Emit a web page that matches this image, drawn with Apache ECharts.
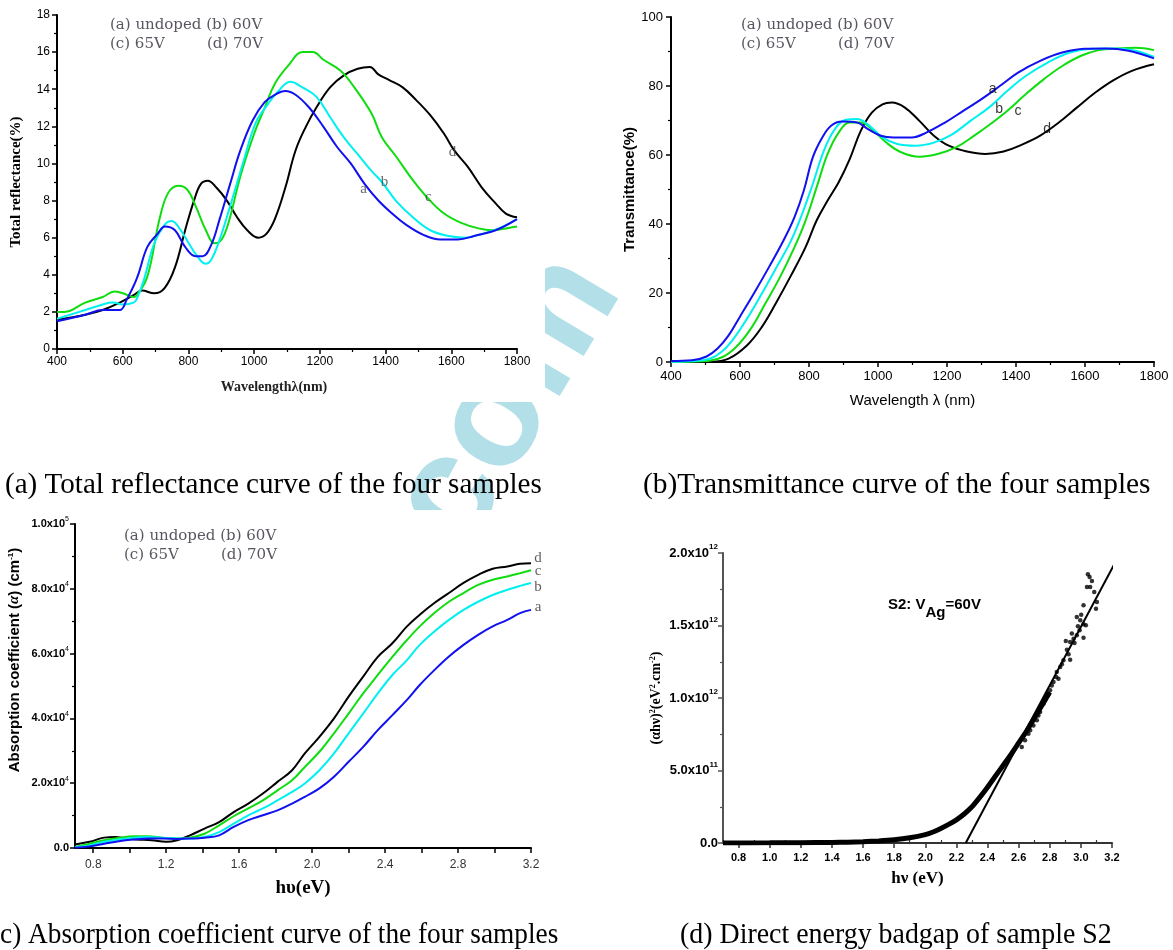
<!DOCTYPE html>
<html>
<head>
<meta charset="utf-8">
<script src="https://cdn.jsdelivr.net/npm/echarts@6/dist/echarts.min.js"></script>
<style>
  html, body { margin: 0; padding: 0; background: #fff; }
  #chart { width: 1173px; height: 950px; }
</style>
</head>
<body>
<div id="chart"></div>
<script>
// (a) total reflectance, [wavelength nm, %]
const reflA = [[400,1.5],[486,1.85],[539,2.1],[591,2.1],[612,2.65],[643,3.8],[675,5.5],[706,6.2],[728,6.6],[759,6.4],[790,5.5],[822,5.0],[843,5.0],[869,5.6],[895,7.0],[927,8.9],[958,10.7],[995,12.3],[1032,13.3],[1063,13.7],[1095,13.9],[1126,13.7],[1168,13.0],[1210,12.0],[1252,10.9],[1294,10.0],[1336,8.9],[1378,8.0],[1420,7.3],[1462,6.7],[1515,6.15],[1567,5.9],[1620,5.9],[1672,6.1],[1735,6.4],[1800,7.0]]
const reflB = [[400,1.63],[486,2.1],[539,2.4],[570,2.5],[601,2.4],[633,2.5],[643,2.7],[664,3.7],[696,5.7],[728,6.7],[749,6.9],[769,6.6],[801,5.7],[827,5.0],[851,4.6],[869,4.8],[895,5.9],[927,7.7],[969,10.2],[1005,12.2],[1042,13.2],[1074,13.9],[1110,14.4],[1147,14.1],[1189,13.6],[1231,12.5],[1273,11.4],[1315,10.5],[1357,9.6],[1389,9.0],[1431,8.0],[1483,7.1],[1536,6.4],[1588,6.1],[1641,6.0],[1693,6.2],[1745,6.5],[1800,7.0]]
const reflC = [[400,2.0],[423,2.0],[486,2.5],[539,2.8],[575,3.1],[601,3.0],[633,2.8],[643,2.9],[675,3.9],[712,7.0],[738,8.4],[769,8.8],[796,8.6],[822,7.7],[853,6.4],[880,5.7],[901,5.9],[922,6.8],[958,9.3],[1000,11.6],[1032,13.0],[1063,14.3],[1105,15.3],[1147,16.0],[1179,16.0],[1210,15.6],[1263,15.0],[1305,14.1],[1357,12.7],[1389,11.4],[1431,10.4],[1483,9.1],[1530,8.1],[1578,7.3],[1630,6.8],[1683,6.5],[1724,6.4],[1766,6.5],[1800,6.6]]
const reflD = [[400,1.58],[486,1.85],[539,2.1],[591,2.5],[633,2.9],[659,3.15],[696,3.0],[728,3.3],[759,4.4],[790,6.4],[817,8.0],[838,8.9],[859,9.07],[885,8.7],[917,8.0],[948,7.1],[979,6.4],[1013,6.0],[1037,6.2],[1063,7.0],[1095,8.7],[1126,10.7],[1158,12.0],[1189,13.0],[1231,14.1],[1273,14.75],[1315,15.1],[1352,15.2],[1378,14.8],[1410,14.5],[1452,14.1],[1494,13.4],[1536,12.6],[1578,11.6],[1609,10.7],[1651,9.8],[1693,8.7],[1735,7.85],[1766,7.3],[1800,7.1]]
const reflTags = [[1333,8.6,'a'],[1397,9.0,'b'],[1530,8.2,'c'],[1604,10.6,'d']]

// (b) transmittance, [wavelength nm, %]
const tranA = [[400,0.3],[461,0.5],[503,1.6],[535,3.9],[567,7.7],[599,13],[641,20],[684,27.5],[726,35.2],[758,42],[785,49.7],[811,59.3],[838,65],[864,68.5],[896,69.7],[939,69.4],[971,67.5],[1008,65.6],[1045,65.1],[1098,65.1],[1140,66.5],[1194,69.4],[1247,72.8],[1300,76.2],[1353,80],[1406,83.9],[1470,87.3],[1534,89.7],[1598,90.8],[1662,90.9],[1726,90.2],[1800,88]]
const tranB = [[400,0.1],[471,0.3],[514,1.0],[546,2.9],[578,6.3],[620,12.5],[663,19.8],[706,27.5],[748,35.2],[780,42.9],[811,51.6],[843,61.2],[875,67.5],[907,70.2],[939,70.4],[971,68.8],[1013,65.1],[1056,63.2],[1109,62.7],[1162,63.6],[1215,66],[1268,69.9],[1322,73.8],[1375,78.6],[1428,82.9],[1492,86.8],[1556,89.7],[1619,90.8],[1683,90.9],[1747,90.2],[1800,88.4]]
const tranC = [[400,0],[492,0.2],[546,1.3],[588,4.3],[631,9.6],[673,16.9],[716,24.6],[758,33.3],[790,41],[822,50.6],[854,60.3],[886,66.5],[918,69.4],[950,69.4],[982,67.5],[1024,63.6],[1067,60.8],[1120,59.5],[1173,60.3],[1226,62.2],[1279,65.6],[1332,69.4],[1375,72.8],[1428,77.6],[1481,82],[1534,85.8],[1587,88.7],[1640,90.4],[1694,90.9],[1747,91.1],[1800,90.4]]
const tranD = [[400,0],[514,0.1],[567,1.0],[620,4.8],[663,10.1],[706,17.4],[748,25.1],[790,33.3],[822,41],[854,46.8],[886,52.1],[918,58.8],[950,67],[982,72.3],[1013,74.7],[1040,75.2],[1077,73.8],[1120,69.9],[1162,65.6],[1205,62.7],[1258,61],[1311,60.3],[1364,61],[1417,63],[1470,65.6],[1524,69.4],[1577,73.8],[1630,78.1],[1683,81.7],[1736,84.4],[1800,86.3]]
const tranTags = [[1332,79.2,'a'],[1351,73.3,'b'],[1406,72.8,'c'],[1490,67.5,'d']]

// (c) absorption coefficient, [hv eV, alpha in 1e4 cm-1]
const absA = [[0.7,0.01],[0.78,0.05],[0.86,0.13],[0.94,0.21],[1.02,0.26],[1.1,0.29],[1.18,0.29],[1.26,0.28],[1.33,0.29],[1.41,0.32],[1.49,0.39],[1.57,0.65],[1.65,0.86],[1.73,1.01],[1.81,1.16],[1.89,1.37],[1.96,1.58],[2.04,1.84],[2.12,2.2],[2.2,2.66],[2.28,3.12],[2.36,3.64],[2.44,4.1],[2.52,4.57],[2.59,5.03],[2.67,5.49],[2.75,5.91],[2.83,6.27],[2.91,6.58],[2.99,6.84],[3.07,7.04],[3.14,7.25],[3.2,7.35]]
const absB = [[0.7,0.03],[0.78,0.08],[0.86,0.19],[0.94,0.26],[1.02,0.32],[1.1,0.34],[1.18,0.32],[1.26,0.29],[1.33,0.29],[1.41,0.34],[1.49,0.49],[1.57,0.75],[1.65,1.01],[1.73,1.22],[1.81,1.47],[1.89,1.73],[1.96,1.99],[2.04,2.4],[2.12,2.92],[2.2,3.54],[2.28,4.15],[2.36,4.77],[2.44,5.34],[2.52,5.8],[2.59,6.27],[2.67,6.68],[2.75,7.04],[2.83,7.35],[2.91,7.6],[2.99,7.81],[3.07,7.97],[3.14,8.09],[3.2,8.18]]
const absC = [[0.7,0.03],[0.78,0.13],[0.86,0.24],[0.94,0.31],[1.02,0.36],[1.1,0.36],[1.18,0.32],[1.26,0.29],[1.33,0.32],[1.41,0.44],[1.49,0.7],[1.57,0.98],[1.65,1.22],[1.73,1.47],[1.81,1.78],[1.89,2.09],[1.96,2.5],[2.04,2.97],[2.12,3.54],[2.2,4.15],[2.28,4.77],[2.36,5.34],[2.44,5.9],[2.52,6.42],[2.59,6.84],[2.67,7.25],[2.75,7.6],[2.83,7.87],[2.91,8.12],[2.99,8.28],[3.07,8.38],[3.14,8.48],[3.2,8.57]]
const absD = [[0.7,0.11],[0.78,0.19],[0.86,0.32],[0.92,0.34],[0.98,0.29],[1.04,0.26],[1.12,0.24],[1.2,0.19],[1.26,0.24],[1.33,0.39],[1.41,0.6],[1.49,0.8],[1.57,1.11],[1.65,1.37],[1.73,1.68],[1.81,2.04],[1.89,2.4],[1.96,2.92],[2.04,3.43],[2.12,4.0],[2.2,4.67],[2.28,5.29],[2.36,5.9],[2.44,6.32],[2.52,6.84],[2.59,7.2],[2.67,7.56],[2.75,7.87],[2.83,8.18],[2.91,8.43],[2.99,8.62],[3.07,8.69],[3.14,8.77],[3.2,8.79]]
const absTags = [[3.2,8.95,'d'],[3.2,8.55,'c'],[3.2,8.05,'b'],[3.2,7.45,'a']]

// (d) (alpha h nu)^2 in 1e12 units vs hv (eV)
const tauc = [[0.7,0],[1.0,0.001],[1.2,0.002],[1.4,0.004],[1.5,0.006],[1.6,0.009],[1.7,0.014],[1.8,0.022],[1.9,0.036],[2.0,0.058],[2.05,0.076],[2.1,0.1],[2.15,0.128],[2.2,0.16],[2.25,0.2],[2.3,0.25],[2.35,0.315],[2.4,0.385],[2.45,0.46],[2.5,0.535],[2.55,0.61],[2.6,0.69],[2.65,0.77],[2.7,0.86],[2.75,0.95],[2.8,1.04]]
const taucDots = [[3.045,1.853],[3.056,1.834],[3.071,1.807],[3.039,1.766],[3.060,1.766],[3.086,1.731],[3.103,1.662],[3.097,1.616],[3.017,1.639],[3.002,1.575],[2.974,1.559],[3.017,1.508],[2.996,1.536],[3.032,1.501],[2.981,1.494],[2.992,1.467],[2.942,1.444],[2.953,1.409],[2.974,1.432],[3.017,1.416],[2.903,1.393],[2.931,1.386],[2.959,1.379],[2.910,1.333],[2.921,1.301],[2.931,1.264],[2.888,1.260],[2.878,1.232],[2.867,1.214],[2.845,1.179],[2.841,1.145],[2.856,1.133],[2.824,1.110],[2.813,1.087],[2.802,1.053],[2.792,1.030],[2.770,0.984],[2.760,0.961],[2.738,0.903],[2.727,0.880],[2.717,0.846],[2.695,0.811],[2.674,0.777],[2.663,0.754],[2.641,0.708],[2.620,0.662]]
const taucFit = [[2.26,0],[3.228,1.95]]

const eTicksMajor = [0.8,1.2,1.6,2.0,2.4,2.8,3.2]
const eTicksAll = [0.8,1.0,1.2,1.4,1.6,1.8,2.0,2.2,2.4,2.6,2.8,3.0,3.2]
const eTicksMinor = [0.7,0.9,1.1,1.3,1.5,1.7,1.9,2.1,2.3,2.5,2.7,2.9,3.1]

const BLUE = '#1010f0', CYAN = '#00f0f0', GREEN = '#10dd10', BLACK = '#000'
const SERIF = '"Liberation Serif", "DejaVu Serif", serif'
const LEGEND_FONT = '"DejaVu Serif", serif'
const SANS = '"Liberation Sans", Arial, sans-serif'

const chart = echarts.init(document.getElementById('chart'))

// 1.0x10^5 style labels
const sciLabel = (v) => {
  if (v === 0) return '{m|0.0}'
  const e = Math.floor(Math.log10(v) + 1e-9)
  const m = (v / Math.pow(10, e)).toFixed(1)
  return '{m|' + m + 'x10}{e|' + e + '}'
}

const axisBase = (extra) => Object.assign({
  type: 'value',
  splitLine: { show: false },
  axisLine: { show: true, onZero: false, lineStyle: { color: '#000', width: 2 } },
  axisTick: { show: true, length: 5, lineStyle: { color: '#000', width: 1.5 } },
  minorTick: { show: true, splitNumber: 2, length: 3, lineStyle: { color: '#000', width: 1.2 } },
}, extra)

const line = (data, color, xi, width) => ({
  type: 'line', data: data, xAxisIndex: xi, yAxisIndex: xi,
  showSymbol: false, smooth: 0.4,
  lineStyle: { color: color, width: width || 2 }, z: 3,
})

const tags = (data, xi, font, size, color, offset) => ({
  type: 'scatter', xAxisIndex: xi, yAxisIndex: xi, symbolSize: 0, silent: true,
  data: data.map(d => ({ value: [d[0], d[1]], name: d[2] })),
  label: { show: true, position: 'inside', offset: offset || [0, 0], formatter: '{b}',
    fontFamily: font, fontSize: size, color: color },
  z: 5,
})

const legendText = (x, y, parts) => parts.map(p => ({
  type: 'text', x: x + p[0], y: y + p[1], z: 10,
  style: { text: p[2], font: '15px ' + LEGEND_FONT, fill: '#5a5560', verticalAlign: 'middle' },
}))

const legendParts = [[0, 0, '(a) undoped (b) 60V'], [0, 19, '(c) 65V'], [97, 19, '(d) 70V']]

const caption = (x, y, text, sx) => ({
  type: 'text', x: x, y: y, z: 10, scaleX: sx,
  style: { text: text, font: '30px ' + SERIF, fill: '#000', verticalAlign: 'middle' },
})

const mask = (x, y, w, h) => ({
  type: 'rect', shape: { x: x, y: y, width: w, height: h }, z: -1, silent: true,
  style: { fill: '#fff' },
})

const option = {
  animation: false,
  backgroundColor: '#fff',
  grid: [
    { left: 57, top: 15, width: 460, height: 334 },
    { left: 671, top: 17, width: 483, height: 345 },
    { left: 75, top: 524, width: 456, height: 324 },
    { left: 723, top: 553, width: 389, height: 290 },
  ],
  xAxis: [
    axisBase({ gridIndex: 0, min: 400, max: 1800, interval: 200,
      axisLabel: { margin: 7, fontFamily: SANS, fontSize: 12, color: '#000', formatter: v => String(v) },
      name: 'Wavelengthλ(nm)', nameLocation: 'middle', nameGap: 31,
      nameTextStyle: { fontFamily: SERIF, fontWeight: 'bold', fontSize: 14, color: '#222', padding: [0, 26, 0, 0] } }),
    axisBase({ gridIndex: 1, min: 400, max: 1800, interval: 200,
      axisLabel: { margin: 8, fontFamily: SANS, fontSize: 13, color: '#000', formatter: v => String(v) },
      name: 'Wavelength λ (nm)', nameLocation: 'middle', nameGap: 31,
      nameTextStyle: { fontFamily: SANS, fontSize: 15, color: '#000' } }),
    axisBase({ gridIndex: 2, min: 0.7, max: 3.2,
      axisTick: { show: true, length: 5, customValues: eTicksAll, lineStyle: { color: '#000', width: 1.5 } },
      minorTick: { show: false },
      axisLabel: { margin: 11, customValues: eTicksMajor, fontFamily: SANS, fontSize: 12, color: '#333',
        formatter: v => v.toFixed(1) },
      name: 'hυ(eV)', nameLocation: 'middle', nameGap: 31,
      nameTextStyle: { fontFamily: SERIF, fontWeight: 'bold', fontSize: 19, color: '#000' } }),
    axisBase({ gridIndex: 3, min: 0.7, max: 3.2,
      axisLine: { show: true, onZero: false, lineStyle: { color: '#333', width: 2 } },
      axisTick: { show: true, length: 5, customValues: eTicksAll, lineStyle: { color: '#333', width: 1.5 } },
      minorTick: { show: false },
      axisLabel: { margin: 9, customValues: eTicksAll, fontFamily: SANS, fontWeight: 'bold', fontSize: 11, color: '#000',
        formatter: v => v.toFixed(1) },
      name: 'hν (eV)', nameLocation: 'middle', nameGap: 27,
      nameTextStyle: { fontFamily: SERIF, fontWeight: 'bold', fontSize: 17, color: '#000' } }),
    axisBase({ gridIndex: 3, min: 0.7, max: 3.2,
      axisLine: { show: false },
      axisTick: { show: true, length: 3, customValues: eTicksMinor, lineStyle: { color: '#333', width: 1.2 } },
      minorTick: { show: false },
      axisLabel: { show: false } }),
  ],
  yAxis: [
    axisBase({ gridIndex: 0, min: 0, max: 18, interval: 2,
      axisLabel: { margin: 7, fontFamily: SANS, fontSize: 12, color: '#000' },
      name: 'Total reflectance(%)', nameLocation: 'middle', nameGap: 33,
      nameTextStyle: { fontFamily: SERIF, fontWeight: 'bold', fontSize: 15, color: '#000' } }),
    axisBase({ gridIndex: 1, min: 0, max: 100, interval: 20,
      axisLabel: { margin: 8, fontFamily: SANS, fontSize: 13, color: '#000' },
      name: 'Transmittance(%)', nameLocation: 'middle', nameGap: 31,
      nameTextStyle: { fontFamily: SANS, fontWeight: 'bold', fontSize: 15, color: '#000' } }),
    axisBase({ gridIndex: 2, min: 0, max: 10, interval: 2,
      axisLabel: { margin: 6, color: '#000', formatter: v => sciLabel(v * 1e4),
        rich: { m: { fontFamily: SANS, fontWeight: 'bold', fontSize: 11, lineHeight: 16 },
                e: { fontFamily: SANS, fontSize: 7, verticalAlign: 'top' } } },
      name: 'Absorption coefficient ({g|α}) (cm{s|-1})', nameLocation: 'middle', nameGap: 53,
      nameTextStyle: { fontFamily: SANS, fontWeight: 'bold', fontSize: 15, color: '#000', padding: [0, 0, 0, 52],
        rich: { g: { fontFamily: SERIF, fontStyle: 'italic', fontSize: 15, color: '#000' },
                s: { fontFamily: SANS, fontWeight: 'bold', fontSize: 8, verticalAlign: 'top', color: '#000' } } } }),
    axisBase({ gridIndex: 3, min: 0, max: 2, interval: 0.5,
      axisLine: { show: true, onZero: false, lineStyle: { color: '#555', width: 2 } },
      axisTick: { show: true, length: 5, lineStyle: { color: '#555', width: 1.5 } },
      minorTick: { show: true, splitNumber: 2, length: 3, lineStyle: { color: '#555', width: 1.2 } },
      axisLabel: { margin: 5, color: '#000', formatter: v => sciLabel(v * 1e12),
        rich: { m: { fontFamily: SANS, fontWeight: 'bold', fontSize: 13, lineHeight: 20 },
                e: { fontFamily: SANS, fontWeight: 'bold', fontSize: 8, verticalAlign: 'top' } } },
      name: '(αhν){s|2}(eV{s|2}.cm{s|-2})', nameLocation: 'middle', nameGap: 60,
      nameTextStyle: { fontFamily: SERIF, fontWeight: 'bold', fontSize: 14, color: '#000',
        rich: { s: { fontFamily: SERIF, fontWeight: 'bold', fontSize: 8, verticalAlign: 'top', color: '#000' } } } }),
  ],
  series: [
    line(reflD, BLACK, 0), line(reflC, GREEN, 0), line(reflB, CYAN, 0), line(reflA, BLUE, 0),
    tags(reflTags, 0, SERIF, 15, '#444'),
    line(tranD, BLACK, 1), line(tranC, GREEN, 1), line(tranB, CYAN, 1), line(tranA, BLUE, 1),
    tags(tranTags, 1, SANS, 14, '#000'),
    line(absD, BLACK, 2), line(absC, GREEN, 2), line(absB, CYAN, 2), line(absA, BLUE, 2),
    tags(absTags, 2, SERIF, 15, '#333', [7, 0]),
    Object.assign(line(tauc, BLACK, 3, 5), { smooth: 0.2 }),
    { type: 'scatter', data: taucDots, xAxisIndex: 3, yAxisIndex: 3, symbolSize: 4.5,
      itemStyle: { color: '#000' }, z: 4 },
    { type: 'line', data: taucFit, xAxisIndex: 3, yAxisIndex: 3, showSymbol: false, clip: false,
      lineStyle: { color: '#000', width: 2 }, z: 4 },
  ],
  graphic: [
    // watermark, covered by the white panel areas
    { type: 'text', x: 360, y: 648, rotation: 1.03, z: -2, silent: true,
      style: { text: 'n.com', font: 'bold 150px ' + SANS, fill: '#b3e0e8', verticalAlign: 'middle' } },
    mask(0, 0, 545, 402), mask(620, 8, 553, 405), mask(0, 510, 565, 390), mask(640, 520, 533, 380),
    ...legendText(110, 25, legendParts),
    ...legendText(741, 25, legendParts),
    ...legendText(124, 536, legendParts),
    { type: 'text', x: 888, y: 605, z: 10,
      style: { text: 'S2: V{sub|Ag}=60V', font: 'bold 15px ' + SANS, fill: '#000', verticalAlign: 'middle',
        rich: { sub: { font: 'bold 15px ' + SANS, fill: '#000', verticalAlign: 'bottom', lineHeight: 30 } } } },
    caption(5, 485, '(a) Total reflectance curve of the four samples', 0.97),
    caption(643, 485, '(b)Transmittance curve of the four samples', 0.98),
    caption(-9, 935, '(c) Absorption coefficient curve of the four samples', 0.91),
    caption(680, 935, '(d) Direct energy badgap of sample S2', 0.93),
  ],
}

chart.setOption(option)
</script>
</body>
</html>
